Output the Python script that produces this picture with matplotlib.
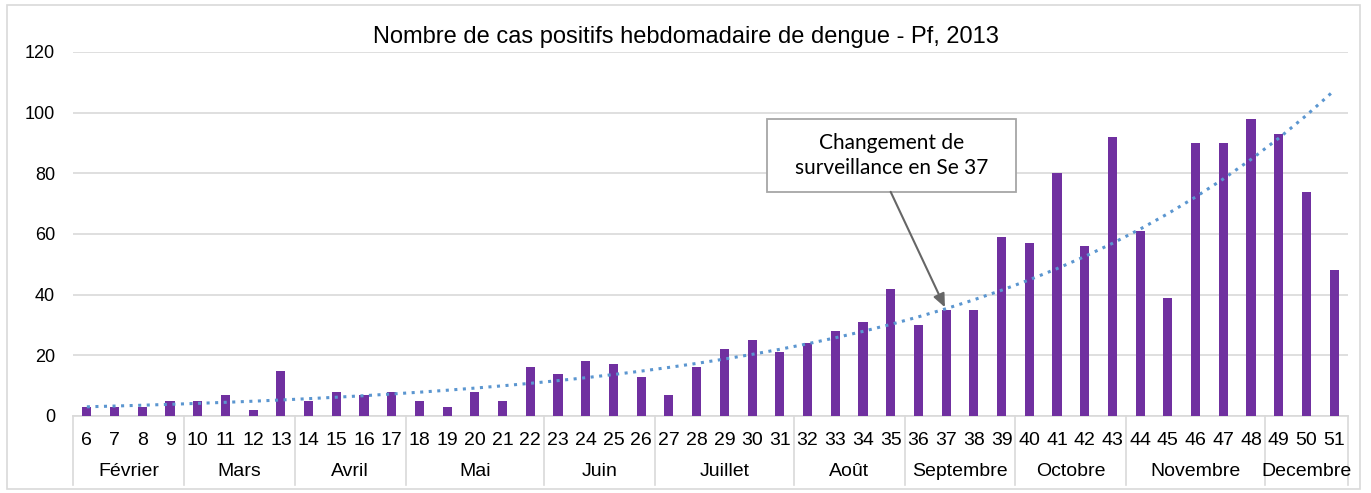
import numpy as np
import matplotlib.pyplot as plt
from matplotlib.patches import Rectangle

weeks = list(range(6, 52))
cases = [3, 3, 3, 5, 5, 7, 2, 15, 5, 8, 7, 8, 5, 3, 8, 5, 16, 14, 18, 17, 13,
         7, 16, 22, 25, 21, 24, 28, 31, 42, 30, 35, 35, 59, 57, 80, 56, 92,
         61, 39, 90, 90, 98, 93, 74, 48]
months = ['Février', 'Mars', 'Avril', 'Mai', 'Juin', 'Juillet', 'Août',
          'Septembre', 'Octobre', 'Novembre', 'Decembre']
month_weeks = [4, 4, 4, 5, 4, 5, 4, 4, 4, 5, 3]

plt.rcParams['font.family'] = ['Liberation Sans', 'DejaVu Sans']

fig = plt.figure(figsize=(13.71, 4.93), dpi=100)
ax = fig.add_axes([73 / 1371, 1 - 416 / 493, 1275 / 1371, 364 / 493])

x = np.arange(len(weeks))
ax.bar(x, cases, width=0.33, color='#7030A0', zorder=3)

# exponential trend line (Excel style: linear fit on ln y)
b, a = np.polyfit(x, np.log(cases), 1)
ax.plot(x, np.exp(a + b * x), linestyle=(0, (1, 1.8)), color='#5B96D0',
        linewidth=2.2, zorder=4)

ax.set_xlim(-0.5, len(weeks) - 0.5)
ax.set_ylim(0, 120)
ax.set_yticks(range(0, 121, 20))
ax.yaxis.grid(True, color='#D9D9D9', linewidth=1.2)
ax.set_axisbelow(True)
for s in ['top', 'right', 'left']:
    ax.spines[s].set_visible(False)
ax.spines['bottom'].set_color('#D9D9D9')
ax.spines['bottom'].set_linewidth(1.2)
ax.tick_params(axis='y', length=0, labelsize=13, pad=13)
ax.set_xticks([])

# two level category axis
trans = ax.get_xaxis_transform()
for i, w in enumerate(weeks):
    ax.text(i, -0.068, str(w), transform=trans, ha='center', va='center',
            fontsize=14)
start = 0
bounds = [0]
for m, n in zip(months, month_weeks):
    mid = start + (n - 1) / 2
    ax.text(mid, -0.153, m, transform=trans, ha='center', va='center',
            fontsize=14)
    start += n
    bounds.append(start)
for bnd in bounds:
    ax.plot([bnd - 0.5, bnd - 0.5], [0, -0.19], transform=trans,
            color='#D9D9D9', linewidth=1.2, clip_on=False)

fig.text(0.5, 1 - 37 / 493, 'Nombre de cas positifs hebdomadaire de dengue - Pf, 2013',
         ha='center', va='center', fontsize=17)

# callout box + arrow
ax.add_patch(Rectangle((24.55, 73.9), 8.99, 24.0, fc='white', ec='#A6A6A6',
                       lw=1.3, zorder=6, clip_on=False))
ax.text(29.05, 85.9, 'Changement de\nsurveillance en Se 37', ha='center',
        va='center', fontsize=15, family='Lato', linespacing=1.3, zorder=7)
ax.annotate('', xy=(weeks.index(37), 35), xytext=(29.0, 73.9),
            arrowprops=dict(arrowstyle='-|>,head_length=0.8,head_width=0.35',
                            color='#666666', lw=1.5, shrinkA=0, shrinkB=2),
            zorder=6)

fig.patches.append(Rectangle((7 / 1371, 1 - 489 / 493), 1353 / 1371,
                             484 / 493, transform=fig.transFigure,
                             fill=False, ec='#D9D9D9', lw=1.2))

fig.savefig('out.png', dpi=100)
